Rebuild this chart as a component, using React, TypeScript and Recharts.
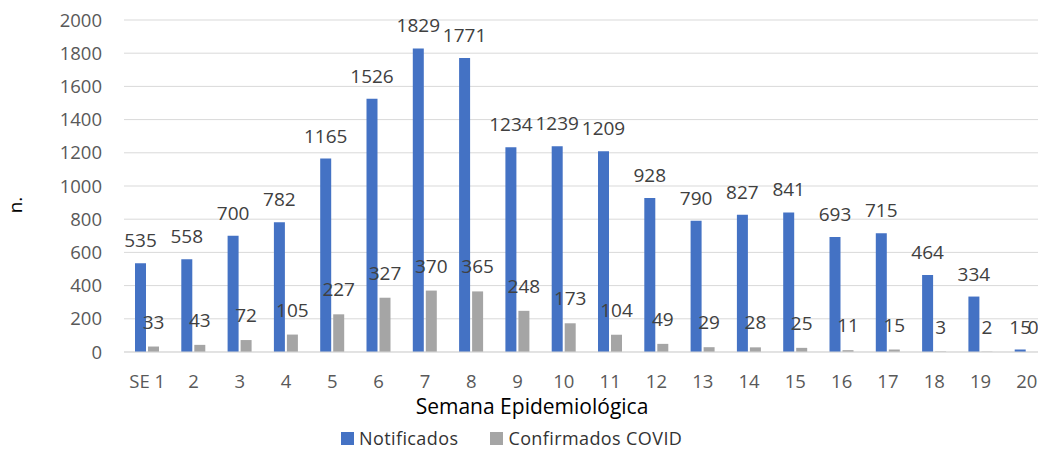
import React from 'react';
import { BarChart, Bar, XAxis, YAxis, CartesianGrid, Legend, LabelList } from 'recharts';

const categories = ['SE 1', '2', '3', '4', '5', '6', '7', '8', '9', '10', '11', '12', '13', '14', '15', '16', '17', '18', '19', '20'];
const notificados = [535, 558, 700, 782, 1165, 1526, 1829, 1771, 1234, 1239, 1209, 928, 790, 827, 841, 693, 715, 464, 334, 15];
const confirmados = [33, 43, 72, 105, 227, 327, 370, 365, 248, 173, 104, 49, 29, 28, 25, 11, 15, 3, 2, 0];
const yTicks = [0, 200, 400, 600, 800, 1000, 1200, 1400, 1600, 1800, 2000];
const seriesOrder = ['Notificados', 'Confirmados COVID'];

const data = categories.map((c, i) => ({ semana: c, notificados: notificados[i], confirmados: confirmados[i] }));

const FONT = "'Open Sans', sans-serif";

const LegendContent = (props: any) => {
  const payload = [...(props.payload || [])].sort(
    (a: any, b: any) => seriesOrder.indexOf(a.value) - seriesOrder.indexOf(b.value)
  );
  return (
    <div style={{ display: 'flex', alignItems: 'center', fontFamily: FONT, fontSize: 18, color: '#333', lineHeight: '20px', height: 20, whiteSpace: 'nowrap' }}>
      {payload.map((p: any, i: number) => (
        <div key={i} style={{ display: 'flex', alignItems: 'center', marginRight: i === 0 ? 32 : 0 }}>
          <span style={{ display: 'inline-block', width: 13, height: 13, background: p.color, marginRight: 5 }} />
          <span style={{ letterSpacing: 0.4 }}>{p.value}</span>
        </div>
      ))}
    </div>
  );
};

export default function App() {
  return (
    <div style={{ position: 'absolute', left: 0, top: 0, width: 1038, height: 451, overflow: 'hidden', background: '#fff', fontFamily: FONT }}>
      <BarChart
        width={1060}
        height={451}
        data={data}
        margin={{ top: 20, right: 10, left: 0, bottom: 0 }}
        barSize={11}
        barGap={2}
      >
        <CartesianGrid vertical={false} stroke="#d9d9d9" strokeWidth={1} />
        <XAxis
          dataKey="semana"
          height={99}
          tickLine={false}
          tickSize={0}
          tickMargin={23}
          axisLine={{ stroke: '#d9d9d9' }}
          interval={0}
          tick={{ fill: '#595959', fontSize: 18.5, fontFamily: FONT }}
          label={{ value: 'Semana Epidemiológica', position: 'insideBottom', offset: 37, dx: -55, fill: '#000', fontSize: 21, fontFamily: FONT }}
        />
        <YAxis
          width={124}
          domain={[0, 2000]}
          ticks={yTicks}
          axisLine={false}
          tickLine={false}
          tickSize={0}
          tickMargin={22}
          tick={{ fill: '#595959', fontSize: 18.5, fontFamily: FONT }}
          label={{
            content: () => (
              <text x={22} y={205} transform="rotate(-90 22 205)" textAnchor="middle" fill="#000" fontSize={19} fontFamily={FONT}>
                n.
              </text>
            ),
          }}
        />
        <Legend
          layout="horizontal"
          verticalAlign="middle"
          align="center"
          wrapperStyle={{ top: 428, left: 341, width: 420, height: 20 }}
          content={<LegendContent />}
        />
        <Bar dataKey="notificados" name="Notificados" fill="#4472c4" isAnimationActive={false}>
          <LabelList dataKey="notificados" position="top" offset={16} fill="#404040" fontSize={19} fontFamily={FONT} />
        </Bar>
        <Bar dataKey="confirmados" name="Confirmados COVID" fill="#a5a5a5" minPointSize={0.01} isAnimationActive={false}>
          <LabelList dataKey="confirmados" position="top" offset={18} fill="#404040" fontSize={19} fontFamily={FONT} />
        </Bar>
      </BarChart>
    </div>
  );
}
